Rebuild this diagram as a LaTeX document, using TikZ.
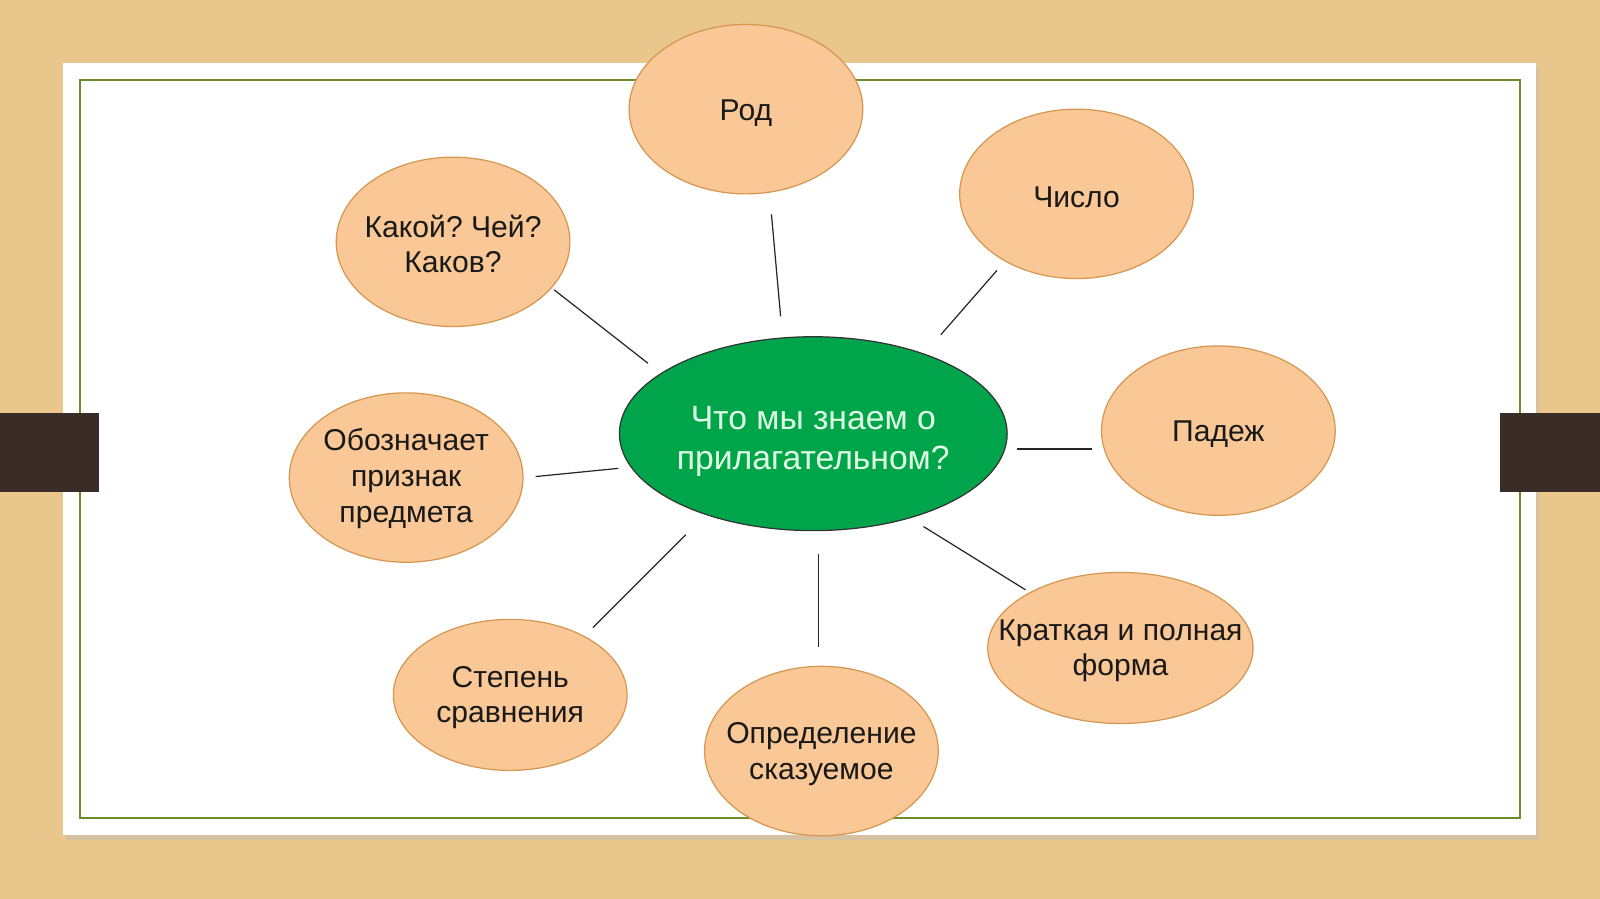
\documentclass[tikz,border=0pt]{standalone}
\usepackage{fontspec}
\setmainfont{Liberation Sans}
\usetikzlibrary{shapes.geometric}
\frenchspacing
\definecolor{wood}{RGB}{233,198,140}
\definecolor{tabc}{RGB}{58,45,40}
\definecolor{frameg}{RGB}{110,140,40}
\definecolor{peach}{RGB}{250,200,150}
\definecolor{peachline}{RGB}{215,150,80}
\definecolor{centerg}{RGB}{0,165,75}
\definecolor{centertxt}{RGB}{225,255,225}
\newcommand{\topstrut}[1]{\rule{0pt}{#1}}
\tikzset{
  bubble/.style={ellipse, draw=peachline, line width=1.2pt, fill=peach, minimum width=229pt, minimum height=166pt, inner xsep=-70pt, inner ysep=-50pt, align=center, font=\fontsize{29.5}{35}\selectfont, text=black!90},
  hub/.style={ellipse, draw=black!80, line width=1.2pt, fill=centerg, minimum width=380pt, minimum height=190pt, inner xsep=-70pt, inner ysep=-50pt, align=center, font=\fontsize{33}{39}\selectfont, text=centertxt},
  spoke/.style={draw=black!85, line width=1.2pt}
}
\begin{document}
\begin{tikzpicture}[x=1pt,y=-1pt]
\useasboundingbox (0,0) rectangle (1568,881);
\fill[wood] (0,0) rectangle (1568,881);
% slide shadow and paper
\fill[black!25, opacity=0.45] (65,67) rectangle (1508,823);
\fill[white] (62,62) rectangle (1505,818);
\draw[frameg, line width=2pt] (78,78) rectangle (1490,802);
% tabs
\fill[tabc] (0,405) rectangle (97,482);
\fill[tabc] (1470,405) rectangle (1568,482);
% nodes
\node[hub] (c) at (797,425) {\topstrut{38pt}Что мы знаем о\\прилагательном?};
\node[bubble] (rod) at (731,107) {\topstrut{28pt}Род};
\node[bubble] (chislo) at (1055,190) {\topstrut{27pt}Число};
\node[bubble] (kakoy) at (444,237) {\topstrut{26pt}Какой? Чей?\\Каков?};
\node[bubble] (padezh) at (1194,422) {\topstrut{28pt}Падеж};
\node[bubble] (oboz) at (398,468) {\topstrut{24pt}Обозначает\\признак\\предмета};
\node[bubble, minimum width=260pt, minimum height=148pt] (krat) at (1098,635) {\topstrut{26pt}Краткая и полная\\форма};
\node[bubble, minimum height=148pt] (step) at (500,681) {\topstrut{26pt}Степень\\сравнения};
\node[bubble] (opr) at (805,736) {\topstrut{26pt}Определение\\сказуемое};
% connector end points
\coordinate (a1) at (756,210); \coordinate (a2) at (765,310);
\coordinate (b1) at (977,265); \coordinate (b2) at (922,328);
\coordinate (k1) at (543,284); \coordinate (k2) at (635,356);
\coordinate (p1) at (1070,440); \coordinate (p2) at (997,440);
\coordinate (o1) at (525,467); \coordinate (o2) at (606,459);
\coordinate (r1) at (1005,578); \coordinate (r2) at (905,516);
\coordinate (d1) at (802,634); \coordinate (d2) at (802,543);
\coordinate (s1) at (581,615); \coordinate (s2) at (672,524);
\draw[spoke] (a1) -- (a2);
\draw[spoke] (b1) -- (b2);
\draw[spoke] (k1) -- (k2);
\draw[spoke] (p1) -- (p2);
\draw[spoke] (o1) -- (o2);
\draw[spoke] (r1) -- (r2);
\draw[spoke] (d1) -- (d2);
\draw[spoke] (s1) -- (s2);
\end{tikzpicture}
\end{document}
